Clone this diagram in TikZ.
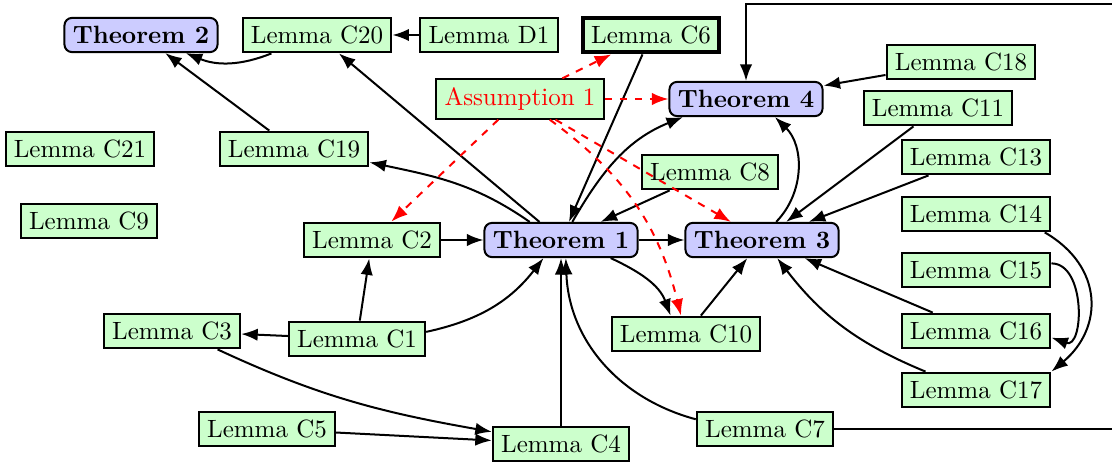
\documentclass[tikz,border=0pt]{standalone}
\usetikzlibrary{arrows.meta}
\definecolor{lgreen}{RGB}{204,255,204}
\definecolor{lblue}{RGB}{204,204,255}
\begin{document}
\begin{tikzpicture}[x=0.4pt,y=0.4pt,
 lem/.style={draw, thick, fill=lgreen, inner sep=3.33pt},
 thm/.style={draw, thick, fill=lblue, rounded corners=3pt, font=\bfseries, inner sep=3.33pt},
 arr/.style={thick,-Latex},
 ass/.style={thick,-Latex,red,dashed}]
\useasboundingbox (0,0) rectangle (1112,-466);
\clip (0,0) rectangle (1112,-466);
\node[thm] (t2) at (141,-35) {Theorem 2};
\node[lem] (c20) at (317,-35) {Lemma C20};
\node[lem] (d1) at (489,-35) {Lemma D1};
\node[lem, ultra thick] (c6) at (651,-35) {Lemma C6};
\node[lem, text=red] (a1) at (520,-99) {Assumption 1};
\node[thm] (t4) at (746,-99) {Theorem 4};
\node[lem] (c18) at (961,-62) {Lemma C18};
\node[lem] (c11) at (938,-108) {Lemma C11};
\node[lem] (c13) at (976,-157) {Lemma C13};
\node[lem] (c14) at (976,-214) {Lemma C14};
\node[lem] (c15) at (976,-270) {Lemma C15};
\node[lem] (c16) at (976,-331) {Lemma C16};
\node[lem] (c17) at (976,-390) {Lemma C17};
\node[lem] (c21) at (80,-149) {Lemma C21};
\node[lem] (c19) at (294,-149) {Lemma C19};
\node[lem] (c9) at (89,-221) {Lemma C9};
\node[lem] (c2) at (372,-240) {Lemma C2};
\node[thm] (t1) at (561,-240) {Theorem 1};
\node[thm] (t3) at (762,-240) {Theorem 3};
\node[lem] (c8) at (710,-172) {Lemma C8};
\node[lem] (c3) at (172,-331) {Lemma C3};
\node[lem] (c1) at (357,-339) {Lemma C1};
\node[lem] (c10) at (686,-334) {Lemma C10};
\node[lem] (c5) at (267,-429) {Lemma C5};
\node[lem] (c4) at (561,-444) {Lemma C4};
\node[lem] (c7) at (765,-429) {Lemma C7};
\coordinate (rt) at (1130,-4);
% black edges
\draw[arr] (c20) to[bend left=22] (t2);
\draw[arr] (c19) -- (t2);
\draw[arr] (d1) -- (c20);
\draw[arr] (t1) -- (c20);
\draw[arr] (t1.150) to[out=145,in=-12] (c19.-10);
\draw[arr] (c2) -- (t1);
\draw[arr] (c1) -- (c2);
\draw[arr] (c1) -- (c3);
\draw[arr] (c1) to[bend right=20] (t1);
\draw[arr] (c3.-22) to[out=-25,in=170] (c4.170);
\draw[arr] (c5) -- (c4);
\draw[arr] (c4) -- (t1);
\draw[arr] (c7.172) to[out=165,in=-88] (t1.-75);
\draw[arr] (c7) -| (rt) -| (t4);
\draw[arr] (c8) -- (t1);
\draw[arr] (c6) -- (t1);
\draw[arr] (t1.58) to[out=60,in=202] (t4.196);
\draw[arr] (t1) -- (t3);
\draw[arr] (t1.-20) to[out=-25,in=110] (c10.130);
\draw[arr] (c10) -- (t3);
\draw[arr] (t3.52) to[bend right=45] (t4.-32);
\draw[arr] (c18) -- (t4);
\draw[arr] (c11) -- (t3);
\draw[arr] (c13) -- (t3);
\draw[arr] (c16) -- (t3);
\draw[arr] (c17) to[bend left=15] (t3);
\draw[arr] (c14.-15) to[out=-30,in=40,looseness=1.25] (c17.north east);
\draw[arr] (c15.5) to[out=0,in=-20,looseness=1.2] (c16.-5);
% red dashed edges
\draw[ass] (a1) -- (c6);
\draw[ass] (a1) -- (t4);
\draw[ass] (a1) -- (c2);
\draw[ass] (a1) -- (t3);
\draw[ass] (a1) to[bend left=20] (c10);
\end{tikzpicture}
\end{document}
